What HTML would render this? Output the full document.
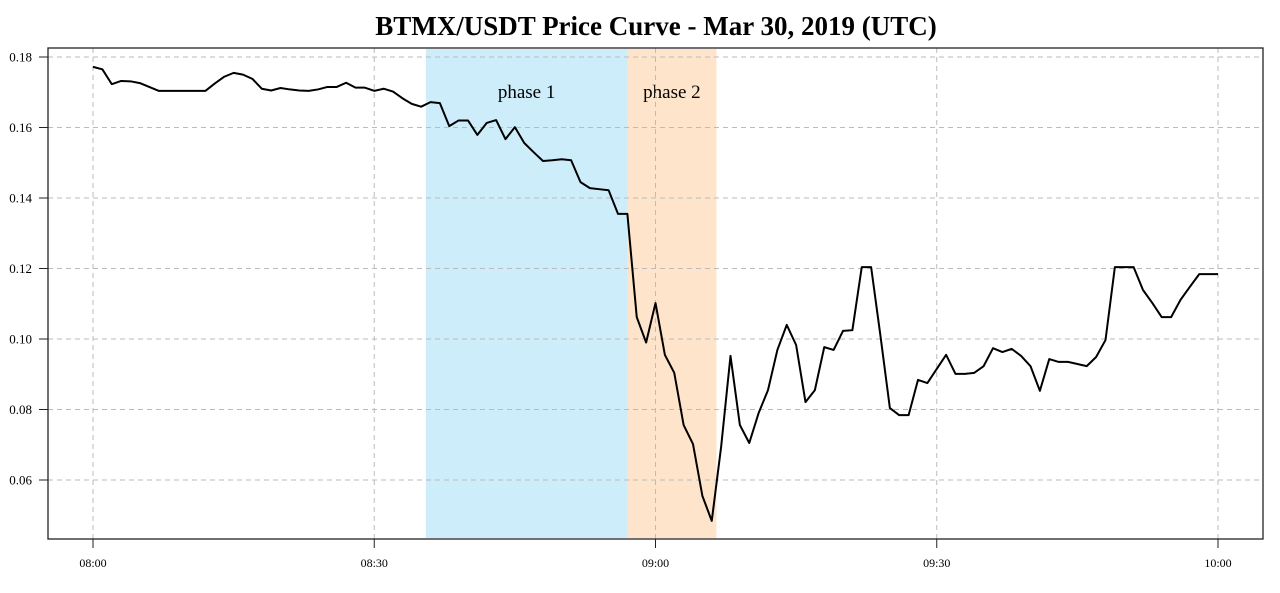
<!DOCTYPE html>
<html><head><meta charset="utf-8"><style>
body{margin:0;background:#fff;width:1280px;height:588px;overflow:hidden}
svg text{font-family:"Liberation Serif",serif}
</style></head><body>
<svg id="chart" width="1280" height="588" xmlns="http://www.w3.org/2000/svg">
<text x="656" y="35" text-anchor="middle" font-size="27" font-weight="bold">BTMX/USDT Price Curve - Mar 30, 2019 (UTC)</text>
<g id="bands"></g><g id="grid"></g><g id="axes"></g><g id="line"></g>
<rect x="48" y="48" width="1215" height="491" fill="none" stroke="#222" stroke-width="1.3"/>
</svg>
<script>
const minutes=[];for(let i=0;i<=120;i++)minutes.push(i);
const prices=[0.1772,0.1765,0.1723,0.1732,0.1731,0.1726,0.1715,0.1704,0.1704,0.1704,0.1704,0.1704,0.1704,0.1725,0.1744,0.1755,0.175,0.1738,0.171,0.1705,0.1712,0.1708,0.1705,0.1704,0.1708,0.1715,0.1715,0.1727,0.1713,0.1713,0.1704,0.171,0.1702,0.1683,0.1667,0.1659,0.1672,0.1669,
0.1604,0.162,0.162,0.1579,0.1613,0.1621,0.1567,0.1601,0.1556,0.153,0.1505,0.1507,0.151,0.1507,0.1445,0.1428,0.1425,0.1422,0.1355,0.1355,0.1062,0.099,0.1102,0.0955,0.0904,0.0756,0.0702,0.0555,0.0484,
0.0694,0.0952,0.0756,0.0705,0.079,0.0855,0.0969,0.104,0.0983,0.0821,0.0855,0.0977,0.0969,0.1023,0.1025,0.1204,0.1204,0.1008,0.0804,0.0784,0.0784,0.0884,0.0875,0.0915,0.0955,0.0901,0.0901,0.0904,0.0923,0.0974,0.0963,0.0972,0.0952,0.0923,0.0853,0.0943,0.0935,0.0935,0.0929,0.0923,0.0949,0.0997,0.1204,0.1204,0.1204,0.1139,0.1102,0.1062,0.1062,0.1111,0.1148,0.1184,0.1184,0.1184];
const yTicks=[0.06,0.08,0.10,0.12,0.14,0.16,0.18];
const yTickLabels=["0.06","0.08","0.10","0.12","0.14","0.16","0.18"];
const xTicks=[0,30,60,90,120];
const xTickLabels=["08:00","08:30","09:00","09:30","10:00"];
const phaseStarts=[35.5,57];
const phaseEnds=[57,66.5];
const phaseNames=["phase 1","phase 2"];
const phaseColors=["#ceedfb","#fde4cb"];
const NS="http://www.w3.org/2000/svg";
const X=m=>93+m*(1218-93)/120;
const Y=v=>57+(0.18-v)*(480-57)/0.12;
function mk(tag,attrs,parent){const e=document.createElementNS(NS,tag);for(const k in attrs)e.setAttribute(k,attrs[k]);document.getElementById(parent).appendChild(e);return e;}
phaseStarts.forEach((s,i)=>{
 const r=mk('rect',{x:X(s),y:49,width:X(phaseEnds[i])-X(s),height:489,fill:phaseColors[i]},'bands');
 
 
 const t=mk('text',{x:(X(s)+X(phaseEnds[i]))/2,y:98,'text-anchor':'middle','font-size':19},'bands');
 t.textContent=phaseNames[i];
 
 
});
yTicks.forEach((v,i)=>{
 const g=mk('line',{x1:48,x2:1263,y1:Y(v),y2:Y(v),stroke:'#bbb','stroke-dasharray':'5,4'},'grid');
 
 
 mk('line',{x1:39,x2:48,y1:Y(v),y2:Y(v),stroke:'#222'},'axes');
 const t=mk('text',{x:32,y:Y(v)+4.5,'text-anchor':'end','font-size':13},'axes');
 t.textContent=yTickLabels[i];
 
 
});
xTicks.forEach((m,i)=>{
 const g=mk('line',{x1:X(m),x2:X(m),y1:48,y2:539,stroke:'#bbb','stroke-dasharray':'5,4'},'grid');
 
 
 mk('line',{x1:X(m),x2:X(m),y1:539,y2:548,stroke:'#222'},'axes');
 const t=mk('text',{x:X(m),y:567,'text-anchor':'middle','font-size':12},'axes');
 t.textContent=xTickLabels[i];
 
 
});
const p=mk('polyline',{points:minutes.map((m,i)=>X(m)+','+Y(prices[i])).join(' '),fill:'none',stroke:'#000','stroke-width':2,'stroke-linejoin':'round'},'line');


</script>
</body></html>
